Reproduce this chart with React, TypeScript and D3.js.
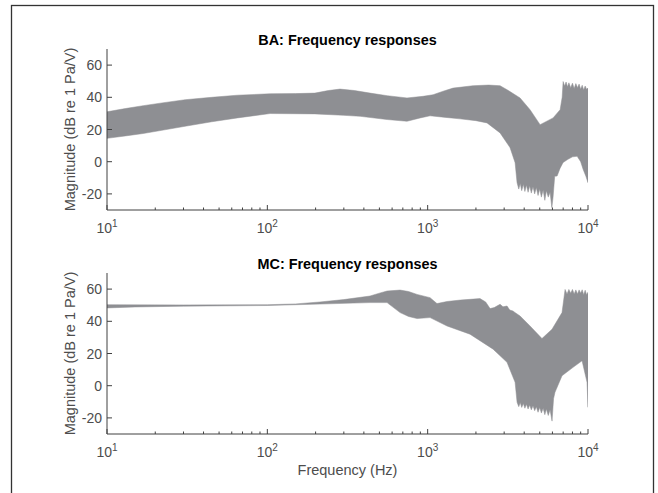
import React from 'react';
import * as d3 from 'd3';

// BA: upper and lower envelopes of the overlaid responses (Hz, dB)
const baUpperHz = [10, 13, 16.8, 22, 30.7, 45, 65, 104, 150, 198, 240, 284, 350, 437, 560, 743, 935, 1081, 1250, 1440, 1918, 2400, 2829, 3126, 3770, 4350, 5025, 6055, 6700, 6900, 6995, 7150, 7300, 7450, 7600, 7800, 8000, 8200, 8400, 8600, 8800, 9000, 9200, 9400, 9600, 9800, 10000];
const baUpperDb = [31, 33, 34.8, 36.5, 38.5, 40, 41.3, 42.2, 42.3, 42.6, 44.2, 45.1, 44.2, 42.6, 41, 39.6, 40.6, 41.6, 43.8, 45.7, 47.2, 47.6, 47.2, 44.7, 39.6, 32.3, 23, 27.2, 32.3, 40, 49.8, 47, 49.5, 46.5, 49, 46, 48.8, 45.5, 48.5, 46, 48.2, 45, 47.5, 44.5, 47, 45, 45.7];
const baLowerHz = [10, 13, 16.8, 22, 30.7, 45, 65, 104, 198, 300, 379, 558, 743, 898, 1035, 1300, 1592, 2000, 2345, 2829, 3266, 3510, 3610, 3700, 3780, 3860, 3950, 4040, 4130, 4230, 4330, 4430, 4540, 4650, 4760, 4880, 5000, 5120, 5250, 5380, 5500, 5650, 5800, 5950, 6055, 6200, 6416, 6700, 6995, 7500, 8000, 8556, 9000, 9330, 9700, 10000];
const baLowerDb = [14.5, 16, 17.5, 19.5, 22, 24.8, 27.2, 29.9, 29.7, 28.8, 28.2, 26.2, 25.1, 27.2, 28.5, 27.5, 26.6, 25.5, 24.1, 17.9, 8.7, -0.6, -13, -17, -13.5, -18, -14, -18.5, -14.5, -19, -15, -19.5, -15.5, -20, -16, -21, -17, -22, -17.5, -24, -18, -22, -19, -28.5, -22, -9, -8.9, -4, -0.5, 1.5, 3, 3.4, 0, -4.8, -9, -13];

// MC
const mcUpperHz = [10, 30, 100, 150, 213, 300, 437, 500, 558, 673, 760, 859, 1035, 1143, 1320, 1600, 2121, 2300, 2450, 2600, 2829, 2950, 3126, 3250, 3404, 3500, 3770, 4350, 5164, 5966, 6886, 7194, 7400, 7600, 7800, 8000, 8200, 8400, 8600, 8800, 9000, 9200, 9400, 9600, 9800, 10000];
const mcUpperDb = [50.3, 50.2, 50.3, 50.8, 52, 53.5, 55.7, 57.5, 58.8, 59.4, 58.5, 56.7, 54.7, 51, 52.3, 53.2, 54.1, 52, 47.9, 48.5, 50.6, 49, 49.5, 47, 46.4, 45.5, 43.3, 37.1, 29.3, 35.1, 45.4, 59.8, 57, 59.8, 57.5, 59.8, 57, 59.5, 57, 59.5, 57.5, 59.6, 56.5, 59.3, 56.5, 58];
const mcLowerHz = [10, 15, 30, 100, 213, 437, 558, 673, 760, 859, 1035, 1320, 1836, 2559, 3126, 3510, 3610, 3700, 3780, 3860, 3950, 4040, 4130, 4230, 4330, 4430, 4540, 4650, 4760, 4880, 5000, 5120, 5250, 5380, 5500, 5650, 5800, 5966, 6100, 6225, 6886, 8072, 9183, 9863, 10000];
const mcLowerDb = [48.3, 48.9, 49.4, 49.8, 50.7, 51.6, 51.6, 45.4, 43, 41.7, 42.3, 37.1, 32, 22.7, 14.5, 2.1, -10.3, -13, -10.5, -13.5, -11, -14, -11.5, -14.5, -12, -15, -12.5, -15.5, -13, -16.5, -13.5, -17, -14, -18, -14.5, -18.5, -15, -22, -8, -4.1, 6.2, 11.4, 15.5, 2.1, -13.4];

const yTicks = [-20, 0, 20, 40, 60];
const xMajor = [10, 100, 1000, 10000];
const xExponents = ['1', '2', '3', '4'];

const FILL = '#8e8f93';
const AXIS = '#404040';
const LABEL = '#4d4d4d';
const FONT = '"Liberation Sans", Arial, Helvetica, sans-serif';

const left = 107;
const right = 588;
const plotH = 161;

interface PanelProps {
  id: string;
  top: number;
  title: string;
  upHz: number[];
  upDb: number[];
  loHz: number[];
  loDb: number[];
  xLabel?: string;
}

const Panel: React.FC<PanelProps> = ({ id, top, title, upHz, upDb, loHz, loDb, xLabel }) => {
  const bottom = top + plotH;
  const x = d3.scaleLog().domain([10, 10000]).range([left, right]);
  const y = d3.scaleLinear().domain([-30, 70]).range([bottom, top]);

  const pts: [number, number][] = [
    ...upHz.map((f, i) => [f, upDb[i]] as [number, number]),
    ...loHz.map((f, i) => [f, loDb[i]] as [number, number]).reverse(),
  ];
  const band = d3
    .line<[number, number]>()
    .x((d) => x(d[0]))
    .y((d) => y(d[1]))(pts) + 'Z';

  // minor ticks 2..9 of each decade
  const minor: number[] = [];
  for (let e = 1; e < 4; e++) {
    for (let m = 2; m <= 9; m++) minor.push(m * Math.pow(10, e));
  }

  return (
    <g>
      <defs>
        <clipPath id={`clip-${id}`}>
          <rect x={left} y={top} width={right - left} height={plotH} />
        </clipPath>
      </defs>
      <text
        x={(left + right) / 2}
        y={top - 4.5}
        textAnchor="middle"
        fontFamily={FONT}
        fontWeight="bold"
        fontSize={14.4}
        fill="#000"
      >
        {title}
      </text>
      <path
        d={band}
        fill={FILL}
        stroke={FILL}
        strokeWidth={0.5}
        strokeLinejoin="round"
        clipPath={`url(#clip-${id})`}
      />
      {/* axes lines */}
      <line x1={left} x2={left} y1={top} y2={bottom} stroke={AXIS} strokeWidth={1} />
      <line x1={left} x2={right} y1={bottom} y2={bottom} stroke={AXIS} strokeWidth={1} />
      {yTicks.map((t) => (
        <g key={t}>
          <line x1={left} x2={left + 5} y1={y(t)} y2={y(t)} stroke={AXIS} strokeWidth={1} />
          <text
            x={left - 5}
            y={y(t)}
            dy="0.36em"
            textAnchor="end"
            fontFamily={FONT}
            fontSize={14}
            fill={LABEL}
          >
            {t}
          </text>
        </g>
      ))}
      {minor.map((m) => (
        <line key={m} x1={x(m)} x2={x(m)} y1={bottom} y2={bottom - 2.5} stroke={AXIS} strokeWidth={1} />
      ))}
      {xMajor.map((t, i) => (
        <g key={t}>
          <line x1={x(t)} x2={x(t)} y1={bottom} y2={bottom - 5} stroke={AXIS} strokeWidth={1} />
          <text x={x(t)} y={bottom + 23.3} textAnchor="middle" fontFamily={FONT} fontSize={14} fill={LABEL}>
            10
            <tspan fontSize={10} dy={-6.3}>
              {xExponents[i]}
            </tspan>
          </text>
        </g>
      ))}
      <text
        transform={`translate(${left - 31.6},${(top + bottom) / 2}) rotate(-90)`}
        textAnchor="middle"
        fontFamily={FONT}
        fontSize={14.5}
        fill={LABEL}
      >
        Magnitude (dB re 1 Pa/V)
      </text>
      {xLabel && (
        <text
          x={(left + right) / 2}
          y={bottom + 40.5}
          textAnchor="middle"
          fontFamily={FONT}
          fontSize={14.5}
          fill={LABEL}
        >
          {xLabel}
        </text>
      )}
    </g>
  );
};

export default function App() {
  return (
    <div style={{ position: 'absolute', left: 0, top: 0 }}>
      <svg width={658} height={493} style={{ display: 'block', background: '#fff' }}>
        <rect x={11.5} y={5.5} width={642} height={600} fill="none" stroke="#333" strokeWidth={1.3} />
        <Panel
          id="ba"
          top={49}
          title="BA: Frequency responses"
          upHz={baUpperHz}
          upDb={baUpperDb}
          loHz={baLowerHz}
          loDb={baLowerDb}
        />
        <Panel
          id="mc"
          top={273}
          title="MC: Frequency responses"
          upHz={mcUpperHz}
          upDb={mcUpperDb}
          loHz={mcLowerHz}
          loDb={mcLowerDb}
          xLabel="Frequency (Hz)"
        />
      </svg>
    </div>
  );
}
